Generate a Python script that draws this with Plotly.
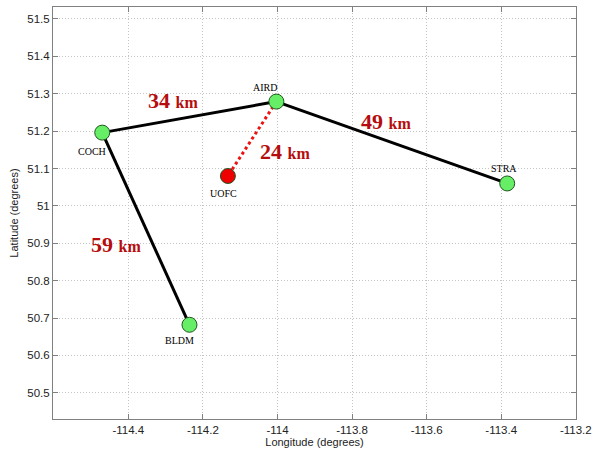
import plotly.graph_objects as go

# Station data
stations = ["COCH", "AIRD", "UOFC", "STRA", "BLDM"]
lons = [-114.47, -114.003, -114.133, -113.384, -114.236]
lats = [51.196, 51.279, 51.080, 51.060, 50.682]
colors = ["#66ee66", "#66ee66", "#ee0000", "#66ee66", "#66ee66"]

# Baselines (pairs of station indices) and their lengths
solid_links = [(0, 1), (1, 3), (0, 4)]
solid_dist = ["34", "49", "59"]
dotted_links = [(1, 2)]
dotted_dist = ["24"]

x_ticks = [-114.4, -114.2, -114.0, -113.8, -113.6, -113.4, -113.2]
x_tick_text = ["-114.4", "-114.2", "-114", "-113.8", "-113.6", "-113.4", "-113.2"]
y_ticks = [50.5, 50.6, 50.7, 50.8, 50.9, 51.0, 51.1, 51.2, 51.3, 51.4, 51.5]
y_tick_text = ["50.5", "50.6", "50.7", "50.8", "50.9", "51", "51.1", "51.2", "51.3", "51.4", "51.5"]

fig = go.Figure()

for a, b in solid_links:
    fig.add_trace(go.Scatter(x=[lons[a], lons[b]], y=[lats[a], lats[b]], mode="lines",
                             line=dict(color="black", width=3), hoverinfo="skip", showlegend=False))
for a, b in dotted_links:
    fig.add_trace(go.Scatter(x=[lons[a], lons[b]], y=[lats[a], lats[b]], mode="lines",
                             line=dict(color="#ee1111", width=3, dash="dot"), hoverinfo="skip", showlegend=False))

fig.add_trace(go.Scatter(x=lons, y=lats, mode="markers",
                         marker=dict(size=15, color=colors, line=dict(color="#225522", width=1)),
                         showlegend=False))

# station label offsets (pixels)
label_shift = {"COCH": (-10, -19), "AIRD": (-11, 14), "UOFC": (-4, -18), "STRA": (-3, 15), "BLDM": (-10, -16)}
for name, x, y in zip(stations, lons, lats):
    dx, dy = label_shift[name]
    fig.add_annotation(x=x, y=y, text=name, showarrow=False, xshift=dx, yshift=dy,
                       font=dict(family="Liberation Serif", size=10, color="black"))

dist_shift = [(-16, 17), (-6, 21), (-30, -16)]
dot_shift = [(33, -13)]
for (a, b), d, (dx, dy) in list(zip(solid_links, solid_dist, dist_shift)) + list(zip(dotted_links, dotted_dist, dot_shift)):
    fig.add_annotation(x=(lons[a] + lons[b]) / 2, y=(lats[a] + lats[b]) / 2,
                       text=f"<b>{d} <span style='font-size:16px'>km</span></b>",
                       showarrow=False, xshift=dx, yshift=dy,
                       font=dict(family="Liberation Serif", size=22, color="#b50d0d"))

axis_common = dict(showgrid=True, gridcolor="#c4c4c4", griddash="1px,2px", gridwidth=1,
                   showline=True, linecolor="#808080", linewidth=1, mirror="ticks",
                   ticks="inside", ticklen=5, tickcolor="#808080", zeroline=False,
                   automargin=False,
                   tickfont=dict(family="Liberation Sans", size=11.5, color="#222222"))

fig.update_xaxes(range=[-114.602, -113.1995], tickvals=x_ticks, ticktext=x_tick_text,
                 title=dict(text="Longitude (degrees)", standoff=2,
                            font=dict(family="Liberation Sans", size=11, color="#222222")),
                 **axis_common)
fig.update_yaxes(range=[50.43, 51.532], tickvals=y_ticks, ticktext=y_tick_text,
                 title=dict(text="Latitude (degrees)", standoff=6,
                            font=dict(family="Liberation Sans", size=11, color="#222222")),
                 **axis_common)

fig.update_layout(width=592, height=451, margin=dict(l=53, r=16, t=7, b=32),
                  plot_bgcolor="white", paper_bgcolor="white")

fig.write_html("out.html", config={"displayModeBar": False},
               post_script="document.body.style.margin='0px';document.body.style.overflow='hidden';")
